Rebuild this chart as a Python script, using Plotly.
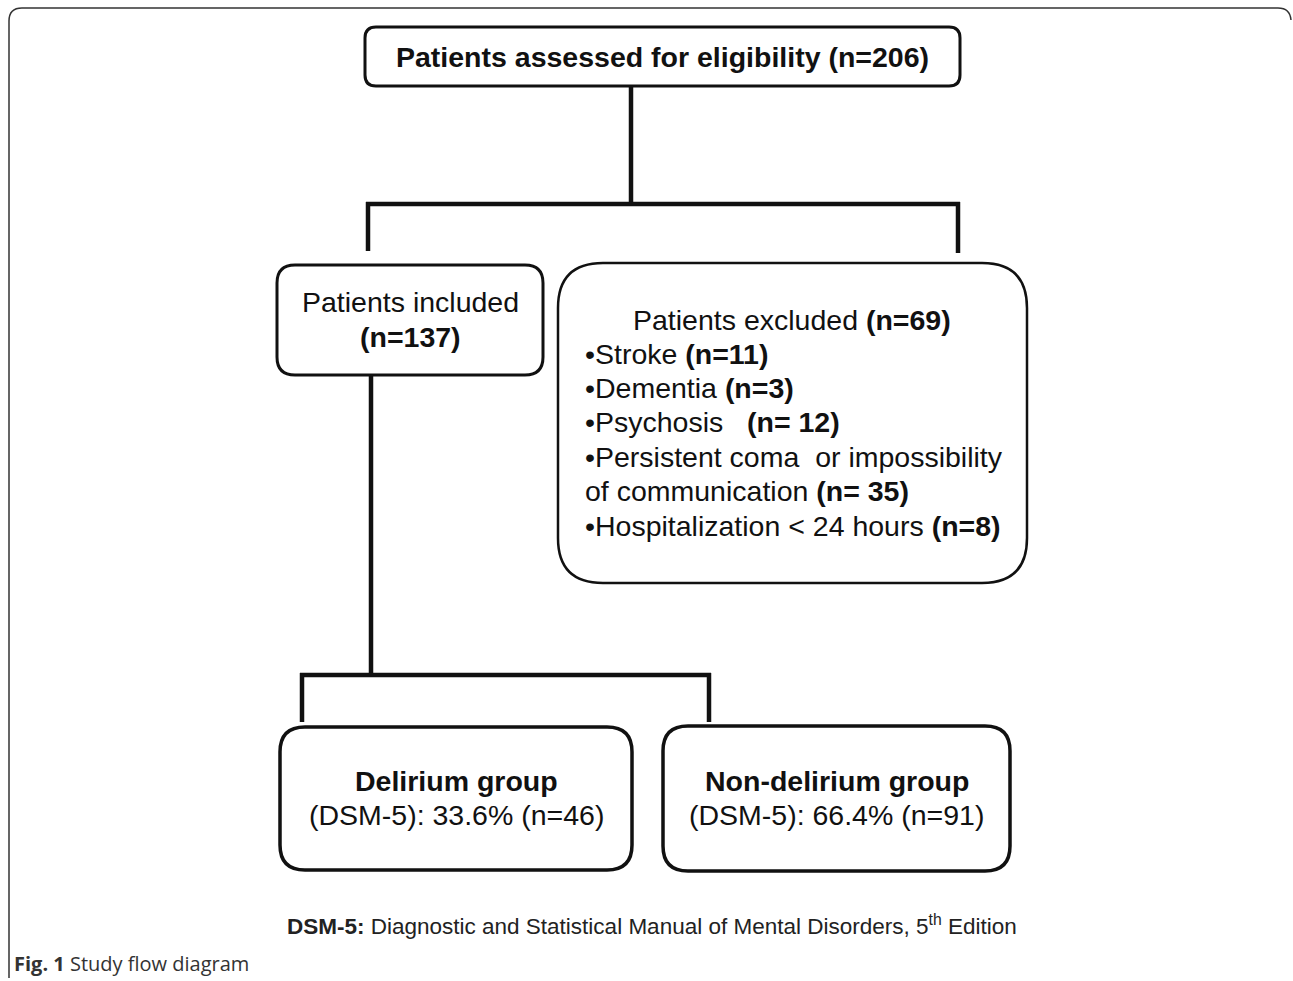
import plotly.graph_objects as go

W, H = 1293, 981
FONT = "Liberation Sans, Arial, sans-serif"
FS = 28.5

# ---- data ----
total_label = "Patients assessed for eligibility"
total_n = 206
included_label = "Patients included"
included_n = 137
excluded_label = "Patients excluded"
excluded_n = 69
exclusion_reasons = ["Stroke", "Dementia", "Psychosis", "Persistent coma  or impossibility", "Hospitalization < 24 hours"]
exclusion_counts = [11, 3, 12, 35, 8]
group_labels = ["Delirium group", "Non-delirium group"]
group_pct = [33.6, 66.4]
group_n = [46, 91]
footnote = "<b>DSM-5:</b> Diagnostic and Statistical Manual of Mental Disorders, 5<sup>th</sup> Edition"
caption = "<b>Fig. 1</b> Study flow diagram"

fig = go.Figure()
shapes = []
annos = []


def rrect(x0, y0, x1, y1, r, w=3):
    p = (f"M {x0+r},{y0} L {x1-r},{y0} Q {x1},{y0} {x1},{y0+r} "
         f"L {x1},{y1-r} Q {x1},{y1} {x1-r},{y1} L {x0+r},{y1} "
         f"Q {x0},{y1} {x0},{y1-r} L {x0},{y0+r} Q {x0},{y0} {x0+r},{y0} Z")
    shapes.append(dict(type="path", path=p, line=dict(color="#111", width=w),
                       fillcolor="rgba(0,0,0,0)", xref="x", yref="y", layer="above"))


def line(x0, y0, x1, y1, w=4.5, color="#111"):
    shapes.append(dict(type="line", x0=x0, y0=y0, x1=x1, y1=y1,
                       line=dict(color=color, width=w), xref="x", yref="y"))


def text(x, y, t, size=FS, anchor="center", color="#111", font=FONT):
    annos.append(dict(x=x, y=y, text=t, showarrow=False, xref="x", yref="y",
                      xanchor=anchor, yanchor="middle", align=anchor if anchor != "center" else "center",
                      font=dict(family=font, size=size, color=color)))


# outer frame (partial)
shapes.append(dict(type="path",
                   path="M 9,978 L 9,21 Q 9,8 22,8 L 1278,8 Q 1290,8 1291,20",
                   line=dict(color="#333", width=1.5), xref="x", yref="y"))

# top box
rrect(365, 27, 960, 86, 11, 3)
text(662, 57, f"<b>{total_label} (n={total_n})</b>")

# connectors from top
line(631, 86, 631, 204)
line(366, 204, 960, 204)
line(368, 202, 368, 251)
line(958, 202, 958, 253)

# included box
rrect(277, 265, 543, 375, 18, 3)
text(410, 302, included_label)
text(410, 337, f"<b>(n={included_n})</b>")

# excluded box
rrect(558, 263, 1027, 583, 45, 2.5)
text(792, 320, f"{excluded_label} <b>(n={excluded_n})</b>")
lx = 583
ys = [354, 388, 422, 457, 526]
for i, (lab, n) in enumerate(zip(exclusion_reasons, exclusion_counts)):
    if i == 2:
        text(lx, ys[i], f"•{lab}   <b>(n= {n})</b>", anchor="left")
    elif i == 3:
        text(lx, ys[i], f"•{lab}", anchor="left")
        text(lx, 491, f"of communication <b>(n= {n})</b>", anchor="left")
    else:
        text(lx, ys[i], f"•{lab} <b>(n={n})</b>", anchor="left")

# connectors to groups
line(371, 375, 371, 675)
line(300, 675, 711, 675)
line(302, 673, 302, 722)
line(709, 673, 709, 722)

# group boxes
boxes = [(280, 727, 632, 870), (663, 726, 1010, 871)]
for (x0, y0, x1, y1), lab, pct, n in zip(boxes, group_labels, group_pct, group_n):
    rrect(x0, y0, x1, y1, 25, 3.5)
    cx = (x0 + x1) / 2
    text(cx, 781, f"<b>{lab}</b>")
    text(cx, 815, f"(DSM-5): {pct}% (n={n})")

# footnote and caption
text(652, 925, footnote, 22.5, color="#222")
text(12, 963, caption, 20, anchor="left", color="#333", font="Open Sans, sans-serif")

fig.update_layout(
    width=W, height=H, margin=dict(l=0, r=0, t=0, b=0),
    paper_bgcolor="white", plot_bgcolor="white",
    xaxis=dict(range=[0, W], visible=False, fixedrange=True),
    yaxis=dict(range=[H, 0], visible=False, fixedrange=True),
    shapes=shapes, annotations=annos, showlegend=False,
)
fig.write_html("out.html", config={"displayModeBar": False},
               post_script="document.body.style.margin='0';document.body.style.overflow='hidden';")
